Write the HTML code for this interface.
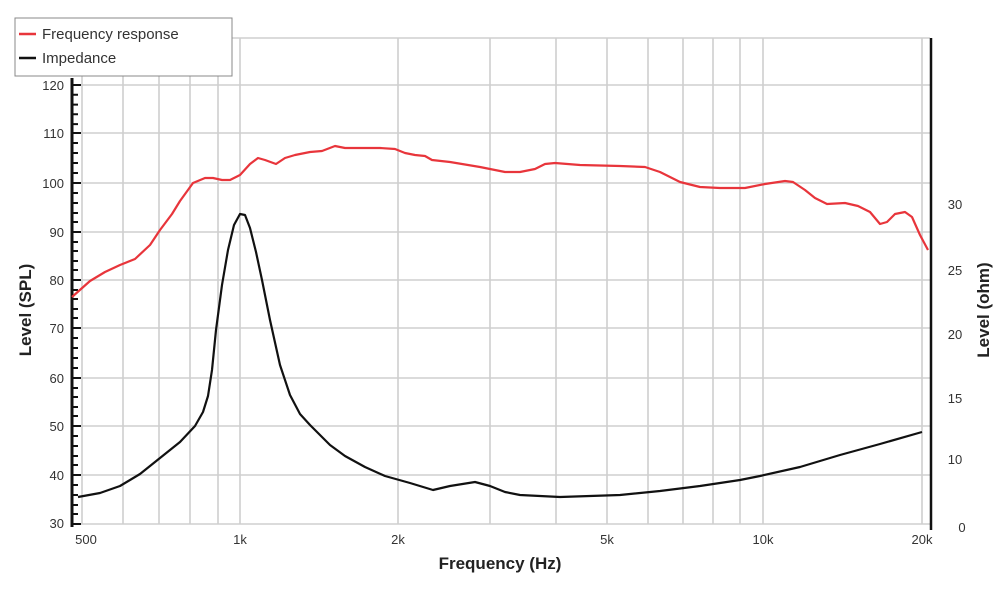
<!DOCTYPE html>
<html><head><meta charset="utf-8"><style>
body{margin:0;background:#fff;}
svg{display:block;font-family:"Liberation Sans",sans-serif;}
</style></head><body>
<svg width="1000" height="600" viewBox="0 0 1000 600">
<rect width="1000" height="600" fill="#fff"/>
<g stroke="#cfcfcf" stroke-width="1.6">
<line x1="72" y1="38" x2="930" y2="38"/>
<line x1="72" y1="85" x2="930" y2="85"/>
<line x1="72" y1="133" x2="930" y2="133"/>
<line x1="72" y1="183" x2="930" y2="183"/>
<line x1="72" y1="232" x2="930" y2="232"/>
<line x1="72" y1="280" x2="930" y2="280"/>
<line x1="72" y1="328" x2="930" y2="328"/>
<line x1="72" y1="378" x2="930" y2="378"/>
<line x1="72" y1="426" x2="930" y2="426"/>
<line x1="72" y1="475" x2="930" y2="475"/>
<line x1="72" y1="524" x2="930" y2="524"/>
<line x1="82" y1="38" x2="82" y2="524"/>
<line x1="123" y1="38" x2="123" y2="524"/>
<line x1="159" y1="38" x2="159" y2="524"/>
<line x1="190" y1="38" x2="190" y2="524"/>
<line x1="218" y1="38" x2="218" y2="524"/>
<line x1="240" y1="38" x2="240" y2="524"/>
<line x1="398" y1="38" x2="398" y2="524"/>
<line x1="490" y1="38" x2="490" y2="524"/>
<line x1="556" y1="38" x2="556" y2="524"/>
<line x1="607" y1="38" x2="607" y2="524"/>
<line x1="648" y1="38" x2="648" y2="524"/>
<line x1="683" y1="38" x2="683" y2="524"/>
<line x1="713" y1="38" x2="713" y2="524"/>
<line x1="740" y1="38" x2="740" y2="524"/>
<line x1="763" y1="38" x2="763" y2="524"/>
<line x1="922" y1="38" x2="922" y2="524"/>
</g>
<line x1="72" y1="78" x2="72" y2="527" stroke="#111" stroke-width="3"/>
<line x1="931" y1="38" x2="931" y2="530" stroke="#111" stroke-width="2.5"/>
<g stroke="#111" stroke-width="2">
<path d="M72 85h9M72 94.8h6M72 104.6h6M72 114.3h6M72 124.1h6M72 133h9M72 143h6M72 153h6M72 163h6M72 173h6M72 183h9M72 193h6M72 203h6M72 213h6M72 222h6M72 232h9M72 242h6M72 251h6M72 261h6M72 270h6M72 280h9M72 290h6M72 299h6M72 309h6M72 318h6M72 328h9M72 338h6M72 348h6M72 358h6M72 368h6M72 378h9M72 388h6M72 397h6M72 407h6M72 416h6M72 426h9M72 436h6M72 446h6M72 456h6M72 465h6M72 475h9M72 485h6M72 495h6M72 505h6M72 514h6M72 524h9"/>
</g>
<g font-size="13" fill="#333" text-anchor="end">
<text x="64" y="90">120</text><text x="64" y="138">110</text><text x="64" y="188">100</text>
<text x="64" y="237">90</text><text x="64" y="285">80</text><text x="64" y="333">70</text>
<text x="64" y="383">60</text><text x="64" y="431">50</text><text x="64" y="480">40</text><text x="64" y="528">30</text>
</g>
<g font-size="13" fill="#333" text-anchor="middle">
<text x="955" y="209">30</text><text x="955" y="275">25</text><text x="955" y="339">20</text>
<text x="955" y="403">15</text><text x="955" y="464">10</text><text x="962" y="532">0</text>
<text x="86" y="544">500</text><text x="240" y="544">1k</text><text x="398" y="544">2k</text>
<text x="607" y="544">5k</text><text x="763" y="544">10k</text><text x="922" y="544">20k</text>
</g>
<text x="500" y="569" font-size="17" font-weight="bold" fill="#222" text-anchor="middle">Frequency (Hz)</text>
<text transform="translate(31,310) rotate(-90)" font-size="17" font-weight="bold" fill="#222" text-anchor="middle">Level (SPL)</text>
<text transform="translate(989,310) rotate(-90)" font-size="17" font-weight="bold" fill="#222" text-anchor="middle">Level (ohm)</text>
<path fill="none" stroke="#e8353b" stroke-width="2.2" stroke-linejoin="round" d="M72 297 L90 281 L105 272 L120 265 L135 259 L150 245 L160 230 L172 214 L180 201 L193 183 L205 178 L213 178 L222 180 L230 180 L240 175 L250 164 L258 158 L265 160 L276 164 L285 158 L295 155 L310 152 L322 151 L335 146 L345 148 L360 148 L380 148 L395 149 L405 153 L415 155 L425 156 L432 160 L450 162 L480 167 L505 172 L520 172 L535 169 L545 164 L555 163 L580 165 L620 166 L645 167 L660 172 L680 182 L700 187 L720 188 L745 188 L765 184 L785 181 L793 182 L805 190 L815 198 L827 204 L845 203 L858 206 L870 212 L880 224 L887 222 L895 214 L905 212 L912 217 L920 235 L928 250"/>
<path fill="none" stroke="#111" stroke-width="2.2" stroke-linejoin="round" d="M78 497 L100 493 L120 486 L140 474 L160 458 L180 442 L195 426 L203 412 L208 396 L212 370 L216 330 L222 285 L228 250 L234 225 L240 214 L245 215 L250 228 L256 252 L262 280 L270 320 L280 365 L290 395 L300 414 L310 425 L330 445 L345 456 L365 467 L385 476 L410 483 L433 490 L450 486 L475 482 L490 486 L505 492 L520 495 L560 497 L620 495 L660 491 L700 486 L740 480 L760 476 L800 467 L840 455 L880 444 L922 432"/>
<rect x="15" y="18" width="217" height="58" fill="#fff" stroke="#888" stroke-width="1"/>
<line x1="19" y1="34" x2="36" y2="34" stroke="#e8353b" stroke-width="2.5"/>
<line x1="19" y1="58" x2="36" y2="58" stroke="#111" stroke-width="2.5"/>
<g font-size="15" fill="#333"><text x="42" y="39">Frequency response</text><text x="42" y="63">Impedance</text></g>
</svg>
</body></html>
